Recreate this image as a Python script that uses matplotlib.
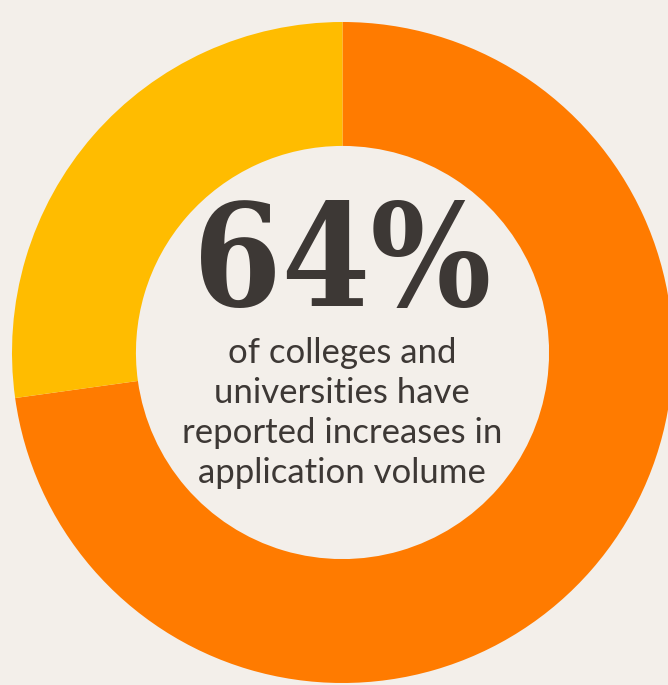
import matplotlib
matplotlib.use("Agg")
import matplotlib.pyplot as plt

labels = ["Reported increases", "Other"]
values = [72.8, 27.2]
colors = ["#FF7B00", "#FFBC00"]
headline = "64%"
body_lines = ["of colleges and", "universities have", "reported increases in", "application volume"]

W, H = 668, 685
bg = "#F3EFEA"
fig = plt.figure(figsize=(W / 100, H / 100), dpi=100, facecolor=bg)
ax = fig.add_axes([0, 0, 1, 1])
ax.set_facecolor(bg)

cx, cy, R = 342.5, 352.5, 330.5
ax.pie(values, colors=colors, startangle=90, counterclock=False, radius=1,
       wedgeprops=dict(width=0.375, linewidth=0))
ax.set_aspect("auto")
ax.set_xlim(-cx / R, (W - cx) / R)
ax.set_ylim(-(H - cy) / R, cy / R)
ax.axis("off")

txt = "#3D3835"
fig.text(342 / W, 1 - 306 / H, headline, ha="center", va="baseline",
         fontsize=102, fontweight="bold", fontstretch="condensed",
         family=["DejaVu Serif"], color=txt)
ys = [363, 403, 443, 483]
for line, y in zip(body_lines, ys):
    fig.text(342 / W, 1 - y / H, line, ha="center", va="baseline",
             fontsize=25, family=["Lato", "DejaVu Sans"], color=txt)

fig.savefig("out.png", dpi=100, facecolor=bg)
